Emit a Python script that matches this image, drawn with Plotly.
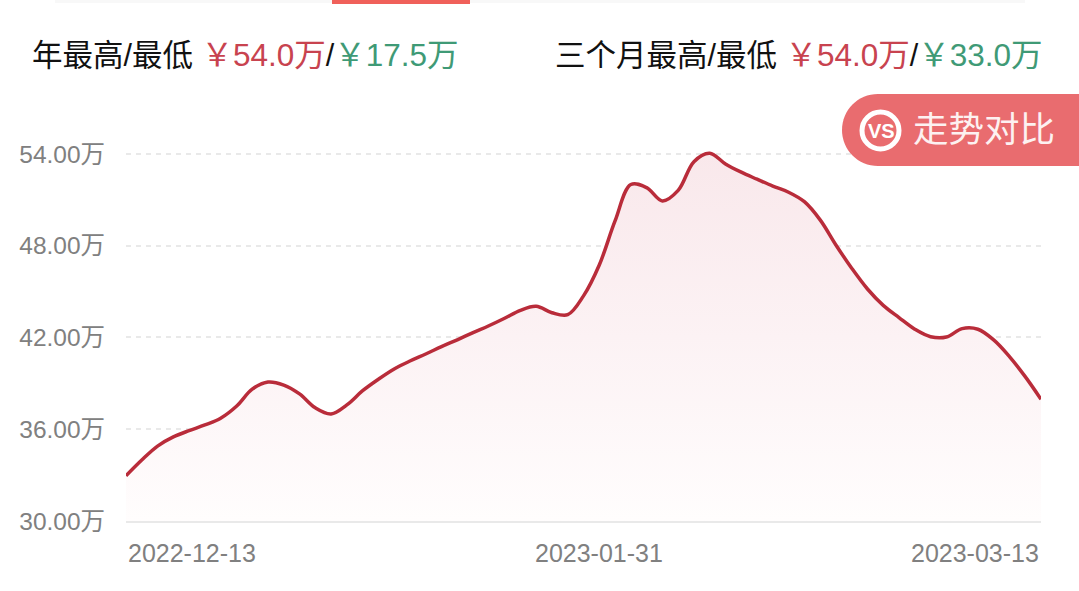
import plotly.graph_objects as go

dates = ["2022-12-13","2022-12-14","2022-12-15","2022-12-16","2022-12-19","2022-12-20","2022-12-21","2022-12-22","2022-12-23",
         "2022-12-26","2022-12-27","2022-12-28","2022-12-29","2022-12-30",
         "2023-01-03","2023-01-04","2023-01-05","2023-01-06","2023-01-09","2023-01-10","2023-01-11","2023-01-12","2023-01-13",
         "2023-01-16","2023-01-17","2023-01-18","2023-01-19","2023-01-20","2023-01-29","2023-01-30","2023-01-31",
         "2023-02-01","2023-02-02","2023-02-03","2023-02-06","2023-02-07","2023-02-08","2023-02-09","2023-02-10",
         "2023-02-13","2023-02-14","2023-02-15","2023-02-16","2023-02-17","2023-02-20","2023-02-21","2023-02-22","2023-02-23","2023-02-24",
         "2023-02-27","2023-02-28","2023-03-01","2023-03-02","2023-03-06","2023-03-07","2023-03-08","2023-03-09","2023-03-10","2023-03-13"]
prices = [32.96,33.99,34.90,35.50,35.91,36.28,36.72,37.50,38.62,39.09,38.89,38.31,37.40,37.00,37.59,38.52,39.27,39.94,40.46,40.92,
          41.40,41.85,42.32,42.77,43.26,43.78,44.04,43.62,43.49,44.72,46.74,49.62,52.00,51.80,50.93,51.62,53.50,54.05,53.35,52.81,
          52.35,51.90,51.50,50.88,49.69,48.05,46.53,45.17,44.10,43.30,42.54,42.05,42.03,42.58,42.54,41.84,40.75,39.44,37.96]
y_ticks = [30, 36, 42, 48, 54]
y_tick_labels = ["30.00万", "36.00万", "42.00万", "48.00万", "54.00万"]
date_labels = ["2022-12-13", "2023-01-31", "2023-03-13"]
date_anchors = ["left", "center", "right"]

W, H = 1079, 591
L, R, T, B = 126, 38, 100, 70
FONT = "Liberation Sans, Noto Sans CJK SC, sans-serif"
RED, GREEN = "#c8434f", "#3f9a76"
px = lambda v: (v - L) / (W - L - R)
py = lambda v: (H - B - v) / (H - T - B)

fig = go.Figure(go.Scatter(
    x=dates, y=prices, mode="lines", cliponaxis=False,
    line=dict(color="#b92c3a", width=3.5, shape="spline", smoothing=1.0),
    fill="tozeroy",
    fillgradient=dict(type="vertical", start=54, stop=30,
                      colorscale=[[0, "rgba(249,232,235,1)"], [0.5, "rgba(252,242,244,1)"], [1, "rgba(255,253,253,1)"]]),
    hoverinfo="skip",
))

def header(x, label, hi, lo):
    vs = "font-size:31.5px"
    fig.add_annotation(
        xref="paper", yref="paper", x=px(x), y=py(55), xanchor="left", yanchor="middle", showarrow=False,
        font=dict(family=FONT, size=30.5, color="#111111"),
        text=f"{label} <span style='color:{RED};{vs}'>￥{hi}</span>/<span style='color:{GREEN};{vs}'>￥{lo}</span>",
    )

header(30, "年最高/最低", "54.0万", "17.5万")
header(553, "三个月最高/最低", "54.0万", "33.0万")

for d, a in zip(date_labels, date_anchors):
    fig.add_annotation(xref="x", yref="paper", x=d, y=py(553), xanchor=a, yanchor="middle", showarrow=False,
                       font=dict(family=FONT, size=25, color="#808080"), text=d)

shapes = [
    dict(type="rect", xref="paper", yref="paper", x0=px(55), x1=px(1025), y0=py(0), y1=py(3),
         fillcolor="#f8f8f8", line_width=0, layer="below"),
    dict(type="rect", xref="paper", yref="paper", x0=px(332), x1=px(470), y0=py(0), y1=py(4),
         fillcolor="#f0605a", line_width=0),
    dict(type="path", xref="paper", yref="paper", fillcolor="#e96c6f", line_width=0,
         path=f"M {px(1079)} {py(94)} L {px(878)} {py(94)} C {px(858)} {py(94)} {px(842)} {py(110)} {px(842)} {py(130)} "
              f"C {px(842)} {py(150)} {px(858)} {py(166)} {px(878)} {py(166)} L {px(1079)} {py(166)} Z"),
    dict(type="circle", xref="paper", yref="paper", x0=px(862), x1=px(899), y0=py(112), y1=py(149),
         fillcolor="rgba(0,0,0,0)", line=dict(color="white", width=5)),
]
fig.add_annotation(xref="paper", yref="paper", x=px(881), y=py(131), xanchor="center", yanchor="middle", showarrow=False,
                   font=dict(family=FONT, size=20, color="white"), text="<b>VS</b>")
fig.add_annotation(xref="paper", yref="paper", x=px(911), y=py(130), xanchor="left", yanchor="middle", showarrow=False,
                   font=dict(family=FONT, size=35.5, color="#fdf1f1"), text="走势对比")

fig.update_layout(
    width=W, height=H, margin=dict(l=L, r=R, t=T, b=B),
    paper_bgcolor="white", plot_bgcolor="white", showlegend=False, shapes=shapes,
    xaxis=dict(type="category", range=[0, len(dates) - 1], showgrid=False, showticklabels=False, ticks="",
               showline=True, linecolor="#e9e9e9", linewidth=2, zeroline=False, layer="above traces"),
    yaxis=dict(range=[30, 57.53], tickmode="array", tickvals=y_ticks, ticktext=y_tick_labels, zeroline=False,
               showline=False, showgrid=True, gridcolor="#e9e9e9", griddash="5px,5px", gridwidth=2,
               ticks="outside", ticklen=15, tickcolor="rgba(0,0,0,0)",
               tickfont=dict(family=FONT, size=24.5, color="#808080")),
)

fig.write_html("out.html", config={"displayModeBar": False},
               post_script="document.body.style.margin='0';document.body.style.overflow='hidden';")
